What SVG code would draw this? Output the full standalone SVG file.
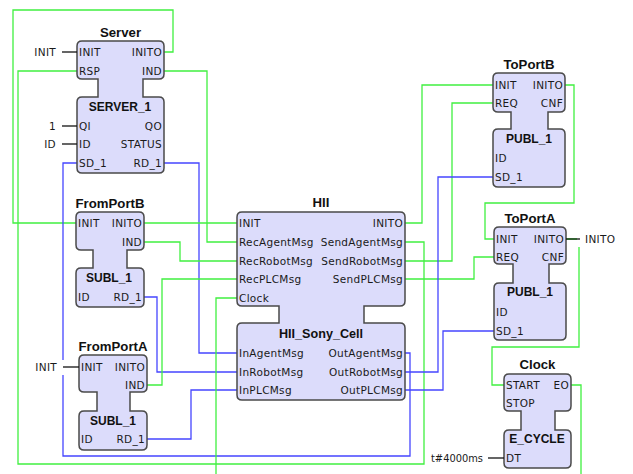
<svg xmlns="http://www.w3.org/2000/svg" width="633" height="474" viewBox="0 0 633 474">
  <style>
    .fb { fill: #dcdcfb; stroke: #4a4a4a; stroke-width: 1.5; }
    .port { font-family: "DejaVu Sans", "Liberation Sans", sans-serif; font-size: 10.5px; letter-spacing: 0.3px; fill: #1a1a1a; }
    .r { text-anchor: end; }
    .inst { font-family: "Liberation Sans", Arial, sans-serif; font-weight: bold; font-size: 13.2px; fill: #111; text-anchor: middle; }
    .type { font-family: "Liberation Sans", Arial, sans-serif; font-weight: bold; font-size: 12px; fill: #111; text-anchor: middle; }
    .ev { fill: none; stroke: #40f040; stroke-width: 1.3; }
    .dt { fill: none; stroke: #4646ff; stroke-width: 1.3; }
    .stub { stroke: #111; stroke-width: 1.3; }
    .bg { fill: #ffffff; }
  </style>
  <rect width="633" height="474" fill="#ffffff"/>

  <!-- connections -->
  <g id="connectors">
    <path class="ev" d="M164,52 H173 V10 H13 V223 H76"/>
    <path class="ev" d="M405,242 H424 V464 H18 V71 H77"/>
    <path class="ev" d="M164,71 H207 V242 H237"/>
    <path class="dt" d="M164,163 H199 V353 H237"/>
    <path class="dt" d="M405,353 H410 V456 H63 V163 H77"/>
    <path class="ev" d="M144,223 H237"/>
    <path class="ev" d="M144,242 H180 V261 H237"/>
    <path class="dt" d="M144,297 H157 V372 H237"/>
    <path class="ev" d="M147,385 H162 V279 H237"/>
    <path class="dt" d="M147,439 H191 V390 H237"/>
    <path class="ev" d="M571,385 H581 V490 H216 V298 H237"/>
    <path class="ev" d="M405,223 H422 V85 H493"/>
    <path class="ev" d="M405,261 H452 V103 H493"/>
    <path class="ev" d="M405,279 H474 V257 H494"/>
    <path class="dt" d="M405,372 H438 V177 H493"/>
    <path class="dt" d="M405,390 H443 V331 H494"/>
    <path class="ev" d="M565,85 H574 V203 H485 V239 H494"/>
    <path class="ev" d="M566,239 H579 V347 H492 V385 H504"/>
  </g>

  <!-- Server / SERVER_1 -->
  <g id="Server">
    <path class="fb" d="M82,41 H159 Q164,41 164,46 V74 Q164,79 159,79 H143 V97 H159 Q164,97 164,102 V168 Q164,173 159,173 H82 Q77,173 77,168 V102 Q77,97 82,97 H98 V79 H82 Q77,79 77,74 V46 Q77,41 82,41 Z"/>
    <text class="inst" x="120.5" y="37">Server</text>
    <text class="type" x="120" y="111">SERVER_1</text>
    <text class="port" x="79" y="56">INIT</text>
    <text class="port r" x="162" y="56">INITO</text>
    <text class="port" x="79" y="75">RSP</text>
    <text class="port r" x="162" y="75">IND</text>
    <text class="port" x="79" y="130">QI</text>
    <text class="port r" x="162" y="130">QO</text>
    <text class="port" x="79" y="148">ID</text>
    <text class="port r" x="162" y="148">STATUS</text>
    <text class="port" x="79" y="167">SD_1</text>
    <text class="port r" x="162" y="167">RD_1</text>
    <text class="port r" x="56" y="56">INIT</text>
    <line class="stub" x1="62" y1="52" x2="77" y2="52"/>
    <text class="port r" x="56" y="130">1</text>
    <line class="stub" x1="62" y1="126" x2="77" y2="126"/>
    <text class="port r" x="56" y="148">ID</text>
    <line class="stub" x1="62" y1="144" x2="77" y2="144"/>
  </g>

  <!-- FromPortB / SUBL_1 -->
  <g id="FromPortB">
    <path class="fb" d="M81,212 H139 Q144,212 144,217 V245 Q144,250 139,250 H127 V268 H139 Q144,268 144,273 V302 Q144,307 139,307 H81 Q76,307 76,302 V273 Q76,268 81,268 H93 V250 H81 Q76,250 76,245 V217 Q76,212 81,212 Z"/>
    <text class="inst" x="110" y="208">FromPortB</text>
    <text class="type" x="109" y="282">SUBL_1</text>
    <text class="port" x="78" y="227">INIT</text>
    <text class="port r" x="142" y="227">INITO</text>
    <text class="port r" x="142" y="246">IND</text>
    <text class="port" x="78" y="301">ID</text>
    <text class="port r" x="142" y="301">RD_1</text>
  </g>

  <!-- FromPortA / SUBL_1 -->
  <g id="FromPortA">
    <path class="fb" d="M84,355 H142 Q147,355 147,360 V387 Q147,392 142,392 H130 V411 H142 Q147,411 147,416 V445 Q147,450 142,450 H84 Q79,450 79,445 V416 Q79,411 84,411 H97 V392 H84 Q79,392 79,387 V360 Q79,355 84,355 Z"/>
    <text class="inst" x="113" y="351">FromPortA</text>
    <text class="type" x="113" y="425">SUBL_1</text>
    <text class="port" x="81" y="371">INIT</text>
    <text class="port r" x="145" y="371">INITO</text>
    <text class="port r" x="145" y="389">IND</text>
    <text class="port" x="81" y="443">ID</text>
    <text class="port r" x="145" y="443">RD_1</text>
    <rect class="bg" x="34" y="360" width="30" height="15"/>
    <text class="port r" x="57" y="371">INIT</text>
    <line class="stub" x1="63" y1="367" x2="79" y2="367"/>
  </g>

  <!-- HII / HII_Sony_Cell -->
  <g id="HII">
    <path class="fb" d="M242,212 H400 Q405,212 405,217 V301 Q405,306 400,306 H364 V323 H400 Q405,323 405,328 V395 Q405,400 400,400 H242 Q237,400 237,395 V328 Q237,323 242,323 H279 V306 H242 Q237,306 237,301 V217 Q237,212 242,212 Z"/>
    <text class="inst" x="321" y="207">HII</text>
    <text class="type" x="321" y="338" style="font-size:12.6px">HII_Sony_Cell</text>
    <text class="port" x="239" y="227">INIT</text>
    <text class="port r" x="403" y="227">INITO</text>
    <text class="port" x="239" y="246">RecAgentMsg</text>
    <text class="port r" x="403" y="246">SendAgentMsg</text>
    <text class="port" x="239" y="265">RecRobotMsg</text>
    <text class="port r" x="403" y="265">SendRobotMsg</text>
    <text class="port" x="239" y="283">RecPLCMsg</text>
    <text class="port r" x="403" y="283">SendPLCMsg</text>
    <text class="port" x="239" y="302">Clock</text>
    <text class="port" x="239" y="357">InAgentMsg</text>
    <text class="port r" x="403" y="357">OutAgentMsg</text>
    <text class="port" x="239" y="376">InRobotMsg</text>
    <text class="port r" x="403" y="376">OutRobotMsg</text>
    <text class="port" x="239" y="394">InPLCMsg</text>
    <text class="port r" x="403" y="394">OutPLCMsg</text>
  </g>

  <!-- ToPortB / PUBL_1 -->
  <g id="ToPortB">
    <path class="fb" d="M498,73 H560 Q565,73 565,78 V107 Q565,112 560,112 H548 V129 H560 Q565,129 565,134 V182 Q565,187 560,187 H498 Q493,187 493,182 V134 Q493,129 498,129 H511 V112 H498 Q493,112 493,107 V78 Q493,73 498,73 Z"/>
    <text class="inst" x="529" y="69">ToPortB</text>
    <text class="type" x="529" y="143">PUBL_1</text>
    <text class="port" x="495" y="89">INIT</text>
    <text class="port r" x="563" y="89">INITO</text>
    <text class="port" x="495" y="107">REQ</text>
    <text class="port r" x="563" y="107">CNF</text>
    <text class="port" x="495" y="162">ID</text>
    <text class="port" x="495" y="181">SD_1</text>
  </g>

  <!-- ToPortA / PUBL_1 -->
  <g id="ToPortA">
    <path class="fb" d="M499,227 H561 Q566,227 566,232 V259 Q566,264 561,264 H549 V283 H561 Q566,283 566,288 V335 Q566,340 561,340 H499 Q494,340 494,335 V288 Q494,283 499,283 H513 V264 H499 Q494,264 494,259 V232 Q494,227 499,227 Z"/>
    <text class="inst" x="530" y="223">ToPortA</text>
    <text class="type" x="530" y="296">PUBL_1</text>
    <text class="port" x="496" y="243">INIT</text>
    <text class="port r" x="564" y="243">INITO</text>
    <text class="port" x="496" y="261">REQ</text>
    <text class="port r" x="564" y="261">CNF</text>
    <text class="port" x="496" y="316">ID</text>
    <text class="port" x="496" y="335">SD_1</text>
    <rect class="bg" x="577" y="232" width="42" height="15"/>
    <line class="stub" x1="566" y1="239" x2="580" y2="239"/>
    <text class="port" x="585" y="243">INITO</text>
  </g>

  <!-- Clock / E_CYCLE -->
  <g id="Clock">
    <path class="fb" d="M509,374 H566 Q571,374 571,379 V406 Q571,411 566,411 H555 V430 H566 Q571,430 571,435 V463 Q571,468 566,468 H509 Q504,468 504,463 V435 Q504,430 509,430 H521 V411 H509 Q504,411 504,406 V379 Q504,374 509,374 Z"/>
    <text class="inst" x="537.5" y="369">Clock</text>
    <text class="type" x="537" y="443">E_CYCLE</text>
    <text class="port" x="506" y="389">START</text>
    <text class="port r" x="569" y="389">EO</text>
    <text class="port" x="506" y="407">STOP</text>
    <text class="port" x="506" y="462">DT</text>
    <text class="port" x="431" y="462" style="letter-spacing:0" textLength="52" lengthAdjust="spacingAndGlyphs">t#4000ms</text>
    <line class="stub" x1="488" y1="458" x2="504" y2="458"/>
  </g>
</svg>
